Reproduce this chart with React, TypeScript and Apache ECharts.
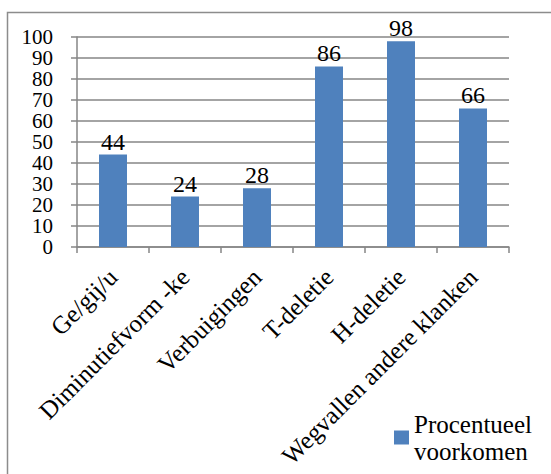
import React, { useEffect, useRef } from "react";
import * as echarts from "echarts";

const categories = ["Ge/gij/u", "Diminutiefvorm -ke", "Verbuigingen", "T-deletie", "H-deletie", "Wegvallen andere klanken"];
const values = [44, 24, 28, 86, 98, 66];
const seriesName = "Procentueel voorkomen";
const yMin = 0;
const yMax = 100;
const yStep = 10;

const FONT = "'Liberation Serif', 'Times New Roman', serif";

export default function App() {
  const ref = useRef<HTMLDivElement>(null);
  useEffect(() => {
    const chart = echarts.init(ref.current!, null, { renderer: "svg" });
    const labelBase = {
      margin: 24,
      fontFamily: FONT,
      fontSize: 21,
      lineHeight: 20,
      color: "#000",
      hideOverlap: false,
    };
    chart.setOption({
      animation: false,
      backgroundColor: "#ffffff",
      textStyle: { fontFamily: FONT },
      grid: { left: 77, right: 42, top: 37, bottom: 227, containLabel: false },
      graphic: [
        {
          type: "rect",
          shape: { x: 7.5, y: 12.5, width: 600, height: 470 },
          style: { fill: "none", stroke: "#8c8c8c", lineWidth: 1.5 },
          silent: true,
          z: -10,
        },
      ],
      legend: {
        show: true,
        left: 394,
        top: 397,
        padding: 0,
        itemWidth: 15,
        itemHeight: 14,
        icon: "rect",
        itemGap: 5,
        formatter: () => "Procentueel\nvoorkomen",
        textStyle: {
          fontFamily: FONT,
          fontSize: 25,
          color: "#000",
          lineHeight: 27,
          padding: [27, 0, 0, 0],
        },
      },
      xAxis: {
        type: "category",
        data: categories,
        axisLine: { show: true, lineStyle: { color: "#868686", width: 1.5 } },
        axisTick: { show: true, length: 6, lineStyle: { color: "#868686", width: 1.5 } },
        axisLabel: {
          interval: 0,
          rotate: 45,
          margin: 26,
          fontFamily: FONT,
          fontSize: 25,
          color: "#000",
        },
      },
      yAxis: [
        {
          type: "value",
          min: yMin,
          max: yMax,
          interval: yStep,
          position: "left",
          axisLine: { show: true, lineStyle: { color: "#868686", width: 1.5 } },
          axisTick: { show: true, length: 6, lineStyle: { color: "#868686", width: 1.5 } },
          splitLine: { show: true, lineStyle: { color: "#868686", width: 1.5 } },
          axisLabel: {
            ...labelBase,
            showMinLabel: true,
            showMaxLabel: true,
            formatter: (v: number) => (Math.round(v / yStep) % 2 === 0 ? String(v) : ""),
          },
        },
        {
          type: "value",
          min: yMin,
          max: yMax,
          interval: yStep,
          position: "left",
          offset: 0,
          axisLine: { show: false },
          axisTick: { show: false },
          splitLine: { show: false },
          axisLabel: {
            ...labelBase,
            formatter: (v: number) => (Math.round(v / yStep) % 2 === 1 ? String(v) : ""),
          },
        },
      ],
      series: [
        {
          name: seriesName,
          type: "bar",
          data: values,
          barWidth: 28,
          itemStyle: { color: "#4F81BD" },
          label: {
            show: true,
            position: "top",
            distance: 1,
            fontFamily: FONT,
            fontSize: 24,
            color: "#000",
          },
        },
      ],
    });
    return () => chart.dispose();
  }, []);
  return (
    <div
      ref={ref}
      style={{ position: "fixed", left: 0, top: 0, width: 551, height: 474 }}
    />
  );
}
